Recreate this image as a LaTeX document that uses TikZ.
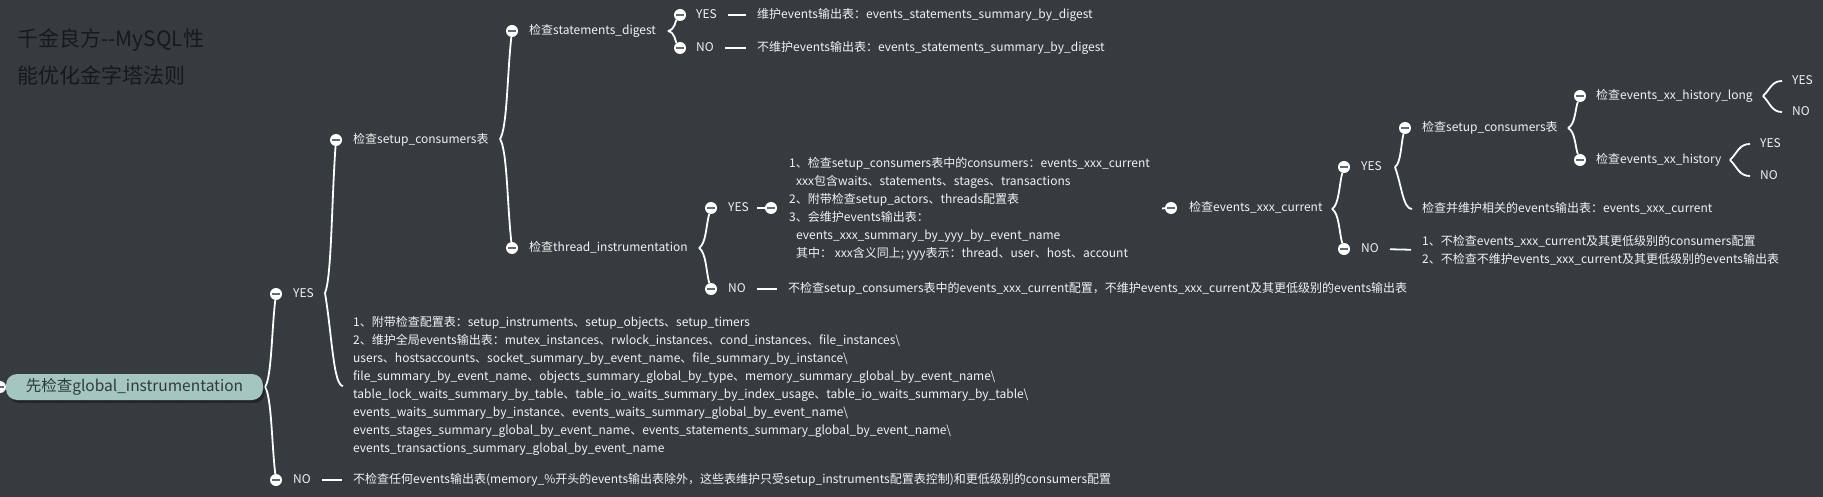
\documentclass[tikz,border=0pt]{standalone}
\usepackage{fontspec}
\newfontfamily\cjk{Noto Sans CJK SC}
\usetikzlibrary{calc,shadows,patterns}
\definecolor{bgc}{HTML}{363B3F}
\definecolor{dotc}{HTML}{3D4347}
\definecolor{txtc}{HTML}{F2F2F2}
\definecolor{titc}{HTML}{17191A}
\definecolor{rootc}{HTML}{A5C6BF}
\definecolor{roott}{HTML}{2F3B3A}
\definecolor{barc}{HTML}{666A6D}
\pgfdeclarelayer{back}
\pgfdeclarelayer{edges}
\pgfsetlayers{back,edges,main}
\tikzset{
  dot/.style={circle, fill=white, inner sep=0pt, minimum size=12pt,
    path picture={\fill[barc] ([xshift=-4.2pt,yshift=-1.1pt]path picture bounding box.center) rectangle ([xshift=4.2pt,yshift=1.1pt]path picture bounding box.center);}},
  txt/.style={font=\cjk\fontsize{12}{18}\selectfont, text=txtc, inner sep=0pt, anchor=west},
  one/.style={txt, text height=9pt, text depth=2pt},
  blk/.style={txt, align=left},
  ttl/.style={font=\cjk\fontsize{21}{26}\selectfont, text=titc, inner sep=0pt, anchor=west, text height=16pt, text depth=4pt},
  rootbox/.style={rounded corners=11pt, fill=rootc, minimum width=257pt, minimum height=26pt, inner sep=0pt,
    font=\cjk\fontsize{15.5}{18}\selectfont, text=roott,
    drop shadow={shadow xshift=2pt, shadow yshift=-3pt, fill=black, opacity=0.35}},
  wire/.style={draw=white, line width=1.8pt},
  br/.style={wire, to path={let \p1=(\tikztostart), \p2=(\tikztotarget) in
     .. controls ({\x1+0.6*(\x2)-0.6*(\x1)},{\y1+0.1*(\y2)-0.1*(\y1)}) and ({\x1+0.6*(\x2)-0.6*(\x1)},{\y1+0.6*(\y2)-0.6*(\y1)}) .. (\tikztotarget)}},
  lf/.style={wire, shorten >=10pt, to path={let \p1=(\tikztostart), \p2=(\tikztotarget) in
     .. controls ({\x1+0.25*(\x2)-0.25*(\x1)},{\y1+0.45*(\y2)-0.45*(\y1)}) and ({\x1+0.3*(\x2)-0.3*(\x1)},{\y2}) .. (\tikztotarget)}},
  seg/.style={wire, shorten <=11pt, shorten >=11pt},
}
\begin{document}
\begin{tikzpicture}[x=1pt,y=1pt]
\useasboundingbox (0,0) rectangle (1823,-497);
\begin{pgfonlayer}{back}
\fill[bgc] (0,0) rectangle (1823,-497);
\fill[pattern=dots, pattern color=dotc] (0,0) rectangle (1823,-497);
\end{pgfonlayer}

% title
\node[ttl] (title1) at (17,-41) {千金良方-{}-MySQL性};
\node[ttl] (title2) at (17,-78) {能优化金字塔法则};

% root
\node[dot] (droot) at (0,-387) {};
\node[rootbox] (root) at (134.5,-387) {先检查global\_instrumentation};

% level 1
\node[dot] (dyes1) at (276,-294) {};
\node[one] (yes1) at (293,-294) {YES};
\node[dot] (dno1) at (276,-480) {};
\node[one] (no1) at (293,-480) {NO};
\node[one] (tno1) at (353,-480) {不检查任何events输出表(memory\_\%开头的events输出表除外，这些表维护只受setup\_instruments配置表控制)和更低级别的consumers配置};
\node[blk] (blk1) at (353,-386) {1、附带检查配置表：setup\_instruments、setup\_objects、setup\_timers\\
2、维护全局events输出表：mutex\_instances、rwlock\_instances、cond\_instances、file\_instances\textbackslash\\
users、hostsaccounts、socket\_summary\_by\_event\_name、file\_summary\_by\_instance\textbackslash\\
file\_summary\_by\_event\_name、objects\_summary\_global\_by\_type、memory\_summary\_global\_by\_event\_name\textbackslash\\
table\_lock\_waits\_summary\_by\_table、table\_io\_waits\_summary\_by\_index\_usage、table\_io\_waits\_summary\_by\_table\textbackslash\\
events\_waits\_summary\_by\_instance、events\_waits\_summary\_global\_by\_event\_name\textbackslash\\
events\_stages\_summary\_global\_by\_event\_name、events\_statements\_summary\_global\_by\_event\_name\textbackslash\\
events\_transactions\_summary\_global\_by\_event\_name};

% setup_consumers
\node[dot] (dsc) at (336,-140) {};
\node[one] (sc) at (353,-140) {检查setup\_consumers表};
\node[dot] (dsd) at (512,-31) {};
\node[one] (sd) at (529,-31) {检查statements\_digest};
\node[dot] (dysd) at (680,-15) {};
\node[one] (ysd) at (696,-15) {YES};
\node[one] (tysd) at (757,-15) {维护events输出表：events\_statements\_summary\_by\_digest};
\node[dot] (dnsd) at (680,-48) {};
\node[one] (nsd) at (696,-48) {NO};
\node[one] (tnsd) at (757,-48) {不维护events输出表：events\_statements\_summary\_by\_digest};

\node[dot] (dti) at (512,-248) {};
\node[one] (ti) at (529,-248) {检查thread\_instrumentation};
\node[dot] (dyti) at (711,-208) {};
\node[one] (yti) at (728,-208) {YES};
\node[dot] (dtb) at (771,-208) {};
\node[blk] (tb) at (789,-209) {1、检查setup\_consumers表中的consumers：events\_xxx\_current\\
\hspace*{7pt}xxx包含waits、statements、stages、transactions\\
2、附带检查setup\_actors、threads配置表\\
3、会维护events输出表：\\
\hspace*{7pt}events\_xxx\_summary\_by\_yyy\_by\_event\_name\\
\hspace*{7pt}其中： xxx含义同上; yyy表示：thread、user、host、account};
\node[dot] (dnti) at (711,-289) {};
\node[one] (nti) at (728,-289) {NO};
\node[one] (tnti) at (788,-289) {不检查setup\_consumers表中的events\_xxx\_current配置，不维护events\_xxx\_current及其更低级别的events输出表};

% events_xxx_current
\node[dot] (dxc) at (1171,-208) {};
\node[one] (xc) at (1189,-208) {检查events\_xxx\_current};
\node[dot] (dyxc) at (1344,-167) {};
\node[one] (yxc) at (1361,-167) {YES};
\node[dot] (dnxc) at (1344,-249) {};
\node[one] (nxc) at (1361,-249) {NO};
\node[blk] (tnxc) at (1422,-250) {1、不检查events\_xxx\_current及其更低级别的consumers配置\\
2、不检查不维护events\_xxx\_current及其更低级别的events输出表};
\node[one] (leafyxc) at (1422,-209) {检查并维护相关的events输出表：events\_xxx\_current};
\node[dot] (dsc2) at (1405,-128) {};
\node[one] (sc2) at (1422,-128) {检查setup\_consumers表};
\node[dot] (dhl) at (1580,-96) {};
\node[one] (hl) at (1596,-96) {检查events\_xx\_history\_long};
\node[one] (hly) at (1792,-81) {YES};
\node[one] (hln) at (1792,-112) {NO};
\node[dot] (dh) at (1580,-160) {};
\node[one] (h) at (1596,-160) {检查events\_xx\_history};
\node[one] (hy) at (1760,-144) {YES};
\node[one] (hn) at (1760,-176) {NO};

% brace tips
\coordinate (troot) at (265,-387);
\coordinate (tyes1) at (325,-293);
\coordinate (tsc) at (500,-139);
\coordinate (tsd) at (668,-31);
\coordinate (tti) at (699,-248);
\coordinate (txc) at (1332,-209);
\coordinate (tyxc) at (1395,-167);
\coordinate (tsc2) at (1568,-128);
\coordinate (thl) at (1763,-96);
\coordinate (th) at (1730,-160);

\begin{pgfonlayer}{edges}
\draw[br] (troot) to (dyes1);
\draw[br] (troot) to (dno1);
\draw[br] (tyes1) to (dsc);
\draw[lf] (tyes1) to (blk1.west);
\draw[seg] (no1.east) -- (tno1.west);
\draw[br] (tsc) to (dsd);
\draw[br] (tsc) to (dti);
\draw[br] (tsd) to (dysd);
\draw[br] (tsd) to (dnsd);
\draw[seg] (ysd.east) -- (tysd.west);
\draw[seg] (nsd.east) -- (tnsd.west);
\draw[br] (tti) to (dyti);
\draw[br] (tti) to (dnti);
\draw[wire, shorten <=8pt] (yti.east) -- (dtb);
\draw[seg] (nti.east) -- (tnti.west);
\draw[wire, shorten <=12pt] (tb.east) -- (dxc);
\draw[br] (txc) to (dyxc);
\draw[br] (txc) to (dnxc);
\draw[seg] (nxc.east) -- (tnxc.west);
\draw[br] (tyxc) to (dsc2);
\draw[lf] (tyxc) to (leafyxc.west);
\draw[br] (tsc2) to (dhl);
\draw[br] (tsc2) to (dh);
\draw[lf] (thl) to (hly.west);
\draw[lf] (thl) to (hln.west);
\draw[lf] (th) to (hy.west);
\draw[lf] (th) to (hn.west);
\end{pgfonlayer}
\end{tikzpicture}
\end{document}
